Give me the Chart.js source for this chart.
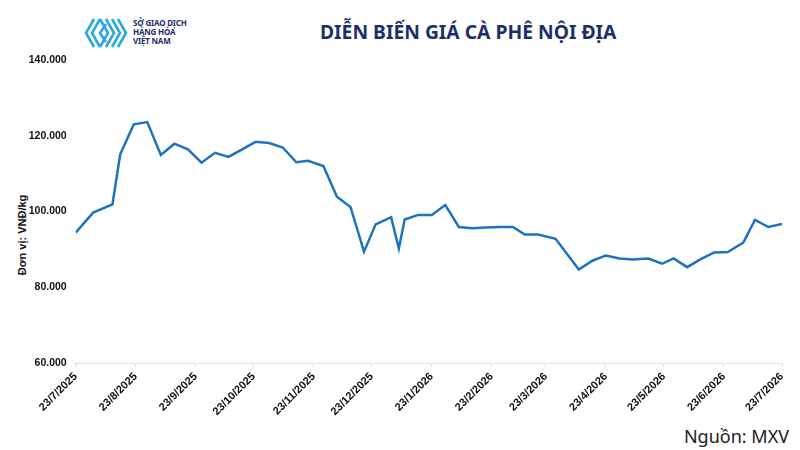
<!DOCTYPE html>
<html>
<head>
<meta charset="utf-8">
<script src="https://cdn.jsdelivr.net/npm/chart.js@4"></script>
<style>
  html, body { margin: 0; padding: 0; background: #fff; }
  #wrap { position: relative; width: 800px; height: 450px; overflow: hidden; }
  #salesChart { position: absolute; left: 0; top: 0; }
  .title {
    position: absolute; left: 320px; top: 18px;
    font: bold 19.3px "Noto Sans", "Open Sans", sans-serif;
    color: #1c2f6b; white-space: nowrap;
  }
  .logo { position: absolute; left: 84px; top: 16px; }
  .logo-text {
    position: absolute; left: 133px; top: 18px;
    font: bold 8px "Noto Sans", "Liberation Sans", sans-serif;
    line-height: 9px; color: #1c2f6b; letter-spacing: -0.2px;
  }
  .ytitle {
    position: absolute; left: 22px; top: 235px;
    transform: translate(-50%, -50%) rotate(-90deg);
    font: bold 11px "Liberation Sans", Arial, sans-serif;
    color: #111; white-space: nowrap;
  }
  .source {
    position: absolute; right: 11px; top: 424px;
    font: 18px "Noto Sans", "Open Sans", sans-serif; color: #222;
  }
</style>
</head>
<body>
<div id="wrap">
  <svg class="logo" width="46" height="34" viewBox="0 0 46 34">
    <g fill="none" stroke="#2aa8e0" stroke-width="2.6" stroke-linejoin="miter">
      <polyline points="10,3 2,17 10,31" />
      <polyline points="16,3 8,17 16,31" />
      <polyline points="16,3 24,17 16,31" />
      <polyline points="22,8 16,17 22,26" />
      <polyline points="28,3 36,17 28,31" />
      <polyline points="22,3 30,17 22,31" />
      <polyline points="34,3 42,17 34,31" />
    </g>
  </svg>
  <div class="logo-text">SỞ GIAO DỊCH<br>HÀNG HÓA<br>VIỆT NAM</div>
  <div class="title">DIỄN BIẾN GIÁ CÀ PHÊ NỘI ĐỊA</div>
  <div class="ytitle">Đơn vị: VNĐ/kg</div>
  <div class="source">Nguồn: MXV</div>
  <canvas id="salesChart" width="800" height="450"></canvas>
</div>
<script>
const startDate = "2025-07-23";

const priceDates = [
  "2025-07-23", "2025-08-01", "2025-08-11", "2025-08-15", "2025-08-22",
  "2025-08-29", "2025-09-05", "2025-09-12", "2025-09-19", "2025-09-26",
  "2025-10-03", "2025-10-10", "2025-10-17", "2025-10-24", "2025-10-31",
  "2025-11-07", "2025-11-14", "2025-11-20", "2025-11-28", "2025-12-05",
  "2025-12-12", "2025-12-19", "2025-12-25", "2026-01-02", "2026-01-06",
  "2026-01-09", "2026-01-16", "2026-01-23", "2026-01-30", "2026-02-06",
  "2026-02-13", "2026-02-20", "2026-02-27", "2026-03-06", "2026-03-12",
  "2026-03-19", "2026-03-28", "2026-04-09", "2026-04-16", "2026-04-23",
  "2026-04-30", "2026-05-07", "2026-05-15", "2026-05-22", "2026-05-28",
  "2026-06-04", "2026-06-11", "2026-06-18", "2026-06-25", "2026-07-03",
  "2026-07-09", "2026-07-16", "2026-07-23",
];
const prices = [
  94400, 99700, 101900, 115100, 123000,
  123600, 114900, 117900, 116400, 112900,
  115500, 114400, 116400, 118400, 118100,
  116900, 113000, 113400, 112000, 103900,
  101200, 89400, 96600, 98500, 90200,
  97900, 99100, 99100, 101700, 95900,
  95600, 95800, 95900, 95900, 93900,
  93900, 92800, 84700, 87000, 88400,
  87600, 87300, 87600, 86200, 87600,
  85300, 87400, 89200, 89300, 91800,
  97800, 95900, 96700,
];

const tickDates = [
  "2025-07-23", "2025-08-23", "2025-09-23", "2025-10-23", "2025-11-23",
  "2025-12-23", "2026-01-23", "2026-02-23", "2026-03-23", "2026-04-23",
  "2026-05-23", "2026-06-23", "2026-07-23",
];
const tickLabels = [
  "23/7/2025", "23/8/2025", "23/9/2025", "23/10/2025", "23/11/2025",
  "23/12/2025", "23/1/2026", "23/2/2026", "23/3/2026", "23/4/2026",
  "23/5/2026", "23/6/2026", "23/7/2026",
];
const yTicks = [60000, 80000, 100000, 120000, 140000];

// so ngay tinh tu 23/7/2025
function dayOffset(s) {
  const [y, m, d] = s.split("-").map(Number);
  const [y0, m0, d0] = startDate.split("-").map(Number);
  return (Date.UTC(y, m - 1, d) - Date.UTC(y0, m0 - 1, d0)) / 86400000;
}

const points = priceDates.map((d, i) => ({ x: dayOffset(d), y: prices[i] }));
const tickDays = tickDates.map(dayOffset);

const fmt = (v) => String(v).replace(/\B(?=(\d{3})+(?!\d))/g, ".");

const ctx = document.getElementById("salesChart").getContext("2d");
new Chart(ctx, {
  type: "line",
  data: {
    datasets: [
      {
        data: points,
        borderColor: "#1f73be",
        borderWidth: 2.5,
        pointRadius: 0,
        tension: 0,
        fill: false,
      },
    ],
  },
  options: {
    responsive: false,
    animation: false,
    layout: { padding: { top: 60, right: 18, left: 10, bottom: 0 } },
    scales: {
      x: {
        type: "linear",
        min: 0,
        max: tickDays[tickDays.length - 1],
        afterBuildTicks: (scale) => {
          scale.ticks = tickDays.map((v) => ({ value: v }));
        },
        afterFit: (scale) => {
          scale.height = 87;
        },
        ticks: {
          autoSkip: false,
          minRotation: 45,
          maxRotation: 45,
          padding: 3,
          color: "#111",
          font: { family: "'Liberation Sans', Arial, sans-serif", size: 11, weight: "bold" },
          callback: (value, i) => tickLabels[i],
        },
        grid: { drawOnChartArea: false, tickLength: 4, color: "#d9d9d9" },
        border: { color: "#e3e3e3" },
      },
      y: {
        min: 60000,
        max: 140000,
        afterBuildTicks: (scale) => {
          scale.ticks = yTicks.map((v) => ({ value: v }));
        },
        afterFit: (scale) => {
          scale.width = 65.7;
        },
        ticks: {
          padding: 9,
          color: "#111",
          font: { family: "'Liberation Sans', Arial, sans-serif", size: 10.5, weight: "bold" },
          callback: (value) => fmt(value),
        },
        grid: { display: false, drawTicks: false },
        border: { display: false },
      },
    },
    plugins: {
      legend: { display: false },
      tooltip: { enabled: false },
    },
  },
});
</script>
</body>
</html>
